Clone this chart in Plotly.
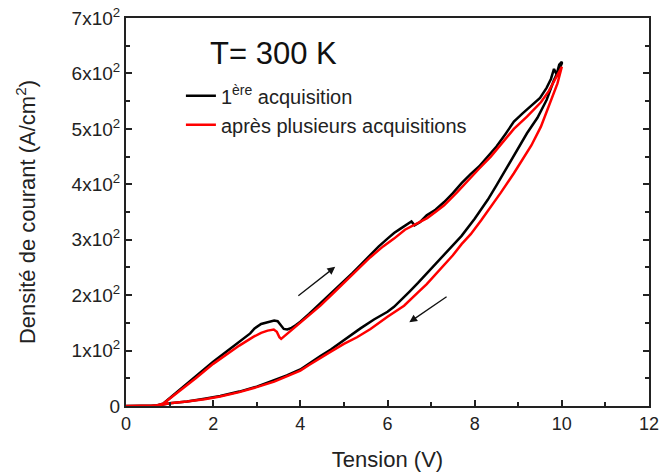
import plotly.graph_objects as go

# ---- data ----
v_black_up = [0, 0.4, 0.7, 0.85, 1.0, 1.3, 1.6, 2.0, 2.3, 2.6, 2.85, 2.95, 3.1, 3.25, 3.4, 3.48, 3.55, 3.62,
              3.7, 3.8, 3.9, 4.0, 4.2, 4.5, 4.8, 5.0, 5.2, 5.4, 5.6, 5.8, 6.0, 6.15, 6.3, 6.45, 6.55, 6.62,
              6.75, 6.9, 7.1, 7.3, 7.5, 7.7, 7.9, 8.1, 8.3, 8.5, 8.7, 8.9, 9.1, 9.3, 9.5, 9.65, 9.75, 9.82,
              9.88, 9.94, 10.0]
j_black_up = [0, 0, 1, 4, 14, 34, 54, 80, 98, 116, 131, 140, 148, 151, 154, 153, 147, 139,
              138, 141, 146, 152, 166, 188, 210, 224, 240, 256, 272, 288, 302, 312, 320, 327, 333, 326,
              332, 344, 354, 368, 384, 402, 418, 432, 450, 468, 490, 513, 528, 542, 556, 574, 590, 608,
              598, 616, 621]
v_black_down = [10.0, 9.9, 9.82, 9.65, 9.44, 9.2, 9.0, 8.75, 8.5, 8.3, 8.0, 7.7, 7.5, 7.3, 7.1, 6.91, 6.7,
                6.5, 6.3, 6.15, 6.0, 5.69, 5.38, 5.0, 4.7, 4.46, 4.2, 4.0, 3.69, 3.4, 3.0, 2.6, 2.16, 1.8,
                1.4, 1.0, 0.8, 0.5, 0]
j_black_down = [618, 600, 588, 552, 520, 492, 465, 430, 398, 372, 338, 307, 290, 272, 255, 239, 222,
                206, 190, 179, 170, 156, 140, 118, 102, 90, 76, 66, 55, 46, 35, 26, 18, 13,
                8, 5, 2, 0, 0]

v_red_up = [0, 0.4, 0.7, 0.85, 1.0, 1.3, 1.6, 2.0, 2.3, 2.6, 2.93, 3.1, 3.25, 3.39, 3.46, 3.52, 3.56, 3.65,
            3.75, 3.85, 4.0, 4.23, 4.46, 4.8, 5.0, 5.3, 5.6, 5.9, 6.15, 6.4, 6.7, 6.91, 7.1, 7.3, 7.6, 7.9,
            8.1, 8.37, 8.6, 8.9, 9.2, 9.52, 9.7, 9.85, 10.0]
j_red_up = [0, 0, 1, 4, 13, 31, 50, 76, 93, 109, 125, 132, 136, 138, 134, 124, 121, 127,
            134, 140, 150, 166, 181, 207, 222, 245, 268, 288, 302, 318, 330, 339, 350, 362, 386, 412,
            428, 450, 472, 500, 522, 548, 568, 590, 612]
v_red_down = [10.0, 9.9, 9.75, 9.52, 9.3, 9.1, 8.9, 8.6, 8.4, 8.15, 7.91, 7.7, 7.5, 7.3, 7.14, 6.9, 6.7,
              6.38, 6.0, 5.61, 5.3, 5.0, 4.7, 4.46, 4.2, 4.0, 3.69, 3.4, 3.0, 2.6, 2.16, 1.8, 1.4, 1.0,
              0.8, 0.5, 0]
j_red_down = [612, 582, 550, 504, 470, 444, 420, 385, 362, 335, 310, 292, 272, 255, 240, 220, 205,
              181, 161, 139, 124, 112, 98, 87, 74, 64, 53, 44, 34, 25, 17, 12, 8, 5,
              2, 0, 0]

series_names = ["1<sup>ère</sup> acquisition", "après plusieurs acquisitions"]
series_colors = ["#000000", "#ff0000"]

x_tick_vals = [0, 2, 4, 6, 8, 10, 12]
y_tick_vals = [0, 100, 200, 300, 400, 500, 600, 700]
y_tick_text = ["0", "1x10<sup>2</sup>", "2x10<sup>2</sup>", "3x10<sup>2</sup>", "4x10<sup>2</sup>",
               "5x10<sup>2</sup>", "6x10<sup>2</sup>", "7x10<sup>2</sup>"]

FONT = "Liberation Sans, Arial, sans-serif"
AX = "#222222"

fig = go.Figure()
fig.add_trace(go.Scatter(x=v_black_up + v_black_down, y=j_black_up + j_black_down, mode="lines",
                         name=series_names[0], line=dict(color=series_colors[0], width=2.5)))
fig.add_trace(go.Scatter(x=v_red_up + v_red_down, y=j_red_up + j_red_down, mode="lines",
                         name=series_names[1], line=dict(color=series_colors[1], width=2.5)))

# direction arrows
fig.add_annotation(x=4.80, y=251, ax=3.92, ay=197, xref="x", yref="y", axref="x", ayref="y",
                   text="", showarrow=True, arrowhead=2, arrowsize=1.2, arrowwidth=1.3, arrowcolor="#111")
fig.add_annotation(x=6.50, y=151, ax=7.39, ay=199, xref="x", yref="y", axref="x", ayref="y",
                   text="", showarrow=True, arrowhead=2, arrowsize=1.2, arrowwidth=1.3, arrowcolor="#111")

fig.add_annotation(x=1.88, y=636, xref="x", yref="y", text="T= 300 K", showarrow=False,
                   xanchor="left", yanchor="middle", font=dict(size=31, color="#111", family=FONT))

fig.update_layout(
    width=662, height=472,
    margin=dict(l=126, r=13, t=18, b=66, autoexpand=False),
    paper_bgcolor="white", plot_bgcolor="white",
    font=dict(family=FONT, color="#222"),
    showlegend=True,
    legend=dict(x=0.105, y=0.85, xanchor="left", yanchor="top", bgcolor="rgba(0,0,0,0)",
                font=dict(size=20, color="#222", family=FONT), tracegroupgap=0),
    xaxis=dict(range=[0, 12], tickvals=x_tick_vals, ticks="inside", ticklen=6, tickwidth=1.5,
               tickcolor=AX, showline=True, linecolor=AX, linewidth=2, mirror=True, automargin=False,
               ticklabeloverflow="allow",
               showgrid=False, zeroline=False, tickfont=dict(size=18, color="#222"),
               minor=dict(dtick=1, ticks="inside", ticklen=4, tickwidth=1.5, tickcolor=AX),
               title=dict(text="Tension (V)", font=dict(size=22, color="#222"), standoff=20)),
    yaxis=dict(range=[0, 700], tickvals=y_tick_vals, ticktext=y_tick_text, ticks="inside", ticklen=6,
               tickwidth=1.5, tickcolor=AX, showline=True, linecolor=AX, linewidth=2, mirror="ticks",
               automargin=False, ticklabeloverflow="allow", ticksuffix="\u00a0\u00a0",
               showgrid=False, zeroline=False, tickfont=dict(size=19, color="#222"),
               minor=dict(dtick=50, ticks="inside", ticklen=4, tickwidth=1.5, tickcolor=AX),
               title=dict(text="Densité de courant (A/cm<sup>2</sup>)", font=dict(size=22, color="#222"),
                          standoff=30)),
)

fig.write_html("out.html", config={"displayModeBar": False},
               post_script="document.body.style.margin='0';document.body.style.overflow='hidden';")
